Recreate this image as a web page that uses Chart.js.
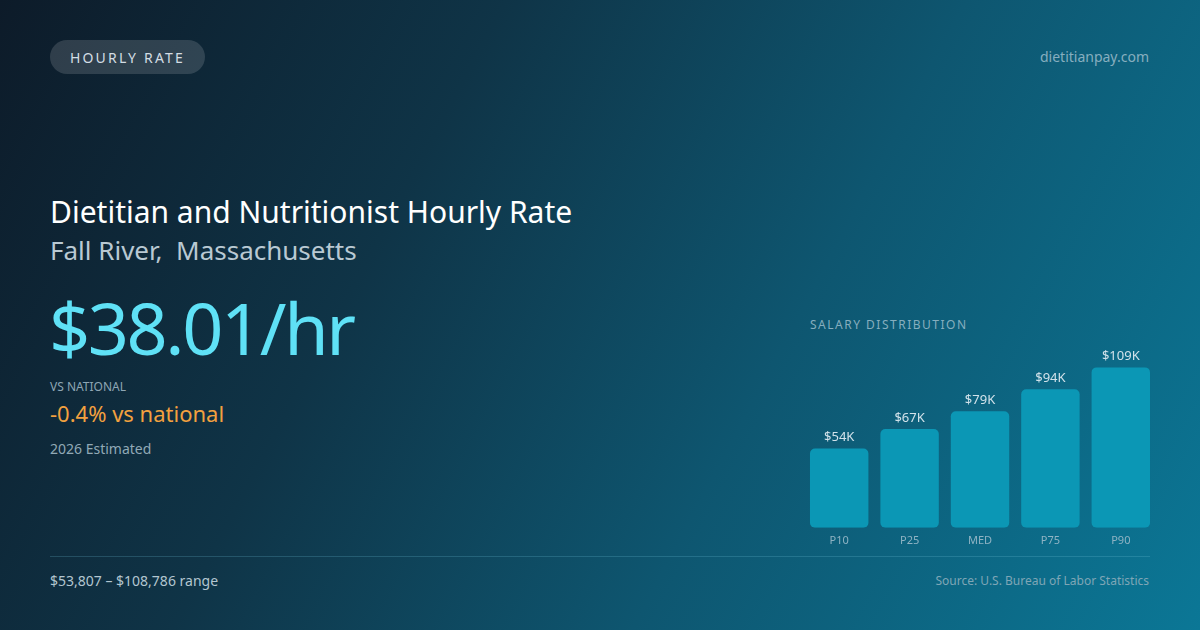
<!DOCTYPE html>
<html>
<head>
<meta charset="utf-8">
<script src="https://cdn.jsdelivr.net/npm/chart.js@4.4.1/dist/chart.umd.min.js"></script>
<style>
  html, body { margin: 0; padding: 0; }
  body {
    width: 1200px; height: 630px; overflow: hidden; position: relative;
    font-family: 'Noto Sans', 'Open Sans', sans-serif;
    background: linear-gradient(118deg, #0d1b29 0%, #0f3447 33%, #0e5670 63%, #0b7796 100%);
  }
  .t { position: absolute; line-height: 1; white-space: nowrap; }
  .pill {
    position: absolute; left: 50px; top: 40px; width: 155px; height: 34px;
    border-radius: 17px; background: rgba(255,255,255,0.14);
    color: #d3dde4; font-size: 14px; letter-spacing: 2.2px;
    display: flex; align-items: center; justify-content: center;
  }
  .rule { position: absolute; left: 50px; top: 556px; width: 1100px; height: 1px; background: rgba(120,200,225,0.22); }
  #wrap { position: absolute; left: 804px; top: 346px; width: 352px; height: 207px; }
</style>
</head>
<body>
<div class="pill">HOURLY RATE</div>
<div class="t" style="right:51px; top:50px; font-size:14px; color:#86aebf;">dietitianpay.com</div>

<div class="t" style="left:50px; top:197px; font-size:30px; color:#ffffff;">Dietitian and Nutritionist Hourly Rate</div>
<div class="t" style="left:50px; top:237px; font-size:26px; color:#b9c9d3;">Fall River,&nbsp; Massachusetts</div>
<div class="t" style="left:49px; top:291px; font-size:72px; letter-spacing:-2.4px; color:#5fe1f6;">$38.01/hr</div>
<div class="t" style="left:50px; top:381px; font-size:12px; color:#8ea6b4;">VS NATIONAL</div>
<div class="t" style="left:50px; top:402px; font-size:22px; color:#f3a13f;">-0.4% vs national</div>
<div class="t" style="left:50px; top:442px; font-size:14px; color:#91a9b6;">2026 Estimated</div>

<div class="t" style="left:810px; top:319px; font-size:12px; letter-spacing:1.5px; color:#86aebf;">SALARY DISTRIBUTION</div>
<div id="wrap"><canvas id="bars"></canvas></div>

<div class="rule"></div>
<div class="t" style="left:50px; top:574px; font-size:14px; color:#b3c6d0;">$53,807 – $108,786 range</div>
<div class="t" style="right:51px; top:575px; font-size:12px; color:#7fa6b6;">Source: U.S. Bureau of Labor Statistics</div>

<script>
const percentiles = ['P10', 'P25', 'MED', 'P75', 'P90']
const salaries = [53807, 67000, 79000, 94000, 108786]
const salaryLabels = ['$54K', '$67K', '$79K', '$94K', '$109K']

Chart.defaults.font.family = "'Noto Sans', 'Open Sans', sans-serif"

// value text above each bar
const valueLabels = {
  id: 'valueLabels',
  afterDatasetsDraw(chart) {
    const ctx = chart.ctx
    const meta = chart.getDatasetMeta(0)
    ctx.save()
    ctx.font = "13px 'Noto Sans', sans-serif"
    ctx.fillStyle = '#d2e2ea'
    ctx.textAlign = 'center'
    ctx.textBaseline = 'alphabetic'
    meta.data.forEach(function (bar, i) {
      ctx.fillText(salaryLabels[i], bar.x, bar.y - 7)
    })
    ctx.restore()
  }
}

const bars = new Chart(document.getElementById('bars'), {
  type: 'bar',
  data: {
    labels: percentiles,
    datasets: [{
      data: salaries,
      backgroundColor: '#0b97b5',
      borderRadius: 5,
      borderSkipped: false,
      barPercentage: 0.83,
      categoryPercentage: 1
    }]
  },
  options: {
    responsive: true,
    maintainAspectRatio: false,
    animation: false,
    layout: { padding: 0 },
    plugins: { legend: { display: false }, tooltip: { enabled: false } },
    scales: {
      x: {
        grid: { display: false, drawTicks: false },
        border: { display: false },
        ticks: { color: '#8fb3c3', font: { size: 11 }, padding: 6 }
      },
      y: {
        display: false,
        min: 0,
        max: 123300
      }
    }
  },
  plugins: [valueLabels]
})
</script>
</body>
</html>
